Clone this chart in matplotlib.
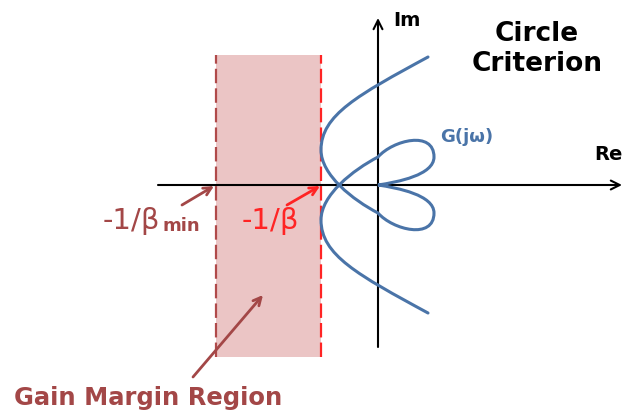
import matplotlib.pyplot as plt
from matplotlib.path import Path
from matplotlib.patches import PathPatch, Rectangle

# diagram coordinates: origin of the Nyquist plane at (0, 0), units ~ pixels
x_beta_min = -162      # -1/beta_min
x_beta = -57           # -1/beta
region_top = 130
region_bottom = -172
re_axis = (-220, 244)
im_axis = (-162, 167)

# upper half of G(jw): cubic bezier control points (end -> bulge -> crossing -> lower loop -> origin)
curve_x = [50, -20, -57, -57, -57, -25, 0, 15, 56, 56, 56, 20, 0]
curve_y = [128, 90, 70, 35, 10, -15, -28, -45, -55, -28, -10, -3, 0]

fill_color = '#ebc5c5'
dark_red = '#a34747'
bright_red = '#ff2424'
blue = '#4a74a8'

fig = plt.figure(figsize=(6.25, 4.13), dpi=100)
ax = fig.add_axes([0, 0, 1, 1])
ax.set_xlim(-378, 247)
ax.set_ylim(-228, 185)
ax.axis('off')

# gain margin region
ax.add_patch(Rectangle((x_beta_min, region_bottom), x_beta - x_beta_min,
                       region_top - region_bottom, fc=fill_color, ec='none', zorder=1))
ax.plot([x_beta_min, x_beta_min], [region_bottom, region_top], color='#b04a4a',
        lw=1.6, ls=(0, (6.5, 2.3)), zorder=2)
ax.plot([x_beta, x_beta], [region_bottom, region_top], color=bright_red,
        lw=1.6, ls=(0, (6.5, 2.3)), zorder=2)

# axes
ax.annotate('', xy=(re_axis[1], 0), xytext=(re_axis[0], 0),
            arrowprops=dict(arrowstyle='->', lw=1.5, color='black',
                            mutation_scale=16, shrinkA=0, shrinkB=0), zorder=3)
ax.annotate('', xy=(0, im_axis[1]), xytext=(0, im_axis[0]),
            arrowprops=dict(arrowstyle='->', lw=1.5, color='black',
                            mutation_scale=16, shrinkA=0, shrinkB=0), zorder=3)

# G(jw) curve, mirrored about the real axis
upper = list(zip(curve_x, curve_y))
lower = [(x, -y) for x, y in reversed(upper)]
verts = upper + lower[1:]
codes = [Path.MOVETO] + [Path.CURVE4] * (len(verts) - 1)
ax.add_patch(PathPatch(Path(verts, codes), fc='none', ec=blue, lw=2.2,
                       capstyle='round', zorder=4))

# text
ax.text(15, 164, 'Im', fontsize=14, fontweight='bold', va='center', ha='left')
ax.text(216, 30, 'Re', fontsize=14, fontweight='bold', va='center', ha='left')
ax.text(159, 136, 'Circle\nCriterion', fontsize=19, fontweight='bold',
        ha='center', va='center', linespacing=1.2)
ax.text(62, 48, 'G(jω)', fontsize=13, fontweight='bold', color=blue,
        ha='left', va='center')
ax.text(-275, -44, '-1/β', fontsize=21, color=dark_red, ha='left', va='baseline')
ax.text(-215, -46, 'min', fontsize=13, fontweight='bold', color=dark_red,
        ha='left', va='baseline')
ax.text(-136, -44, '-1/β', fontsize=21, color=bright_red, ha='left', va='baseline')
ax.text(-364, -213, 'Gain Margin Region', fontsize=17.5, fontweight='bold',
        color=dark_red, ha='left', va='center')

# pointer arrows
ax.annotate('', xy=(x_beta_min - 2, -1), xytext=(-196, -20),
            arrowprops=dict(arrowstyle='->', lw=2, color=dark_red,
                            mutation_scale=14, shrinkA=0, shrinkB=0))
ax.annotate('', xy=(x_beta - 1, -1), xytext=(-91, -20),
            arrowprops=dict(arrowstyle='->', lw=2, color=bright_red,
                            mutation_scale=14, shrinkA=0, shrinkB=0))
ax.annotate('', xy=(-115, -110), xytext=(-185, -192),
            arrowprops=dict(arrowstyle='->', lw=2, color=dark_red,
                            mutation_scale=14, shrinkA=0, shrinkB=0))

fig.savefig('out.png', dpi=100)
